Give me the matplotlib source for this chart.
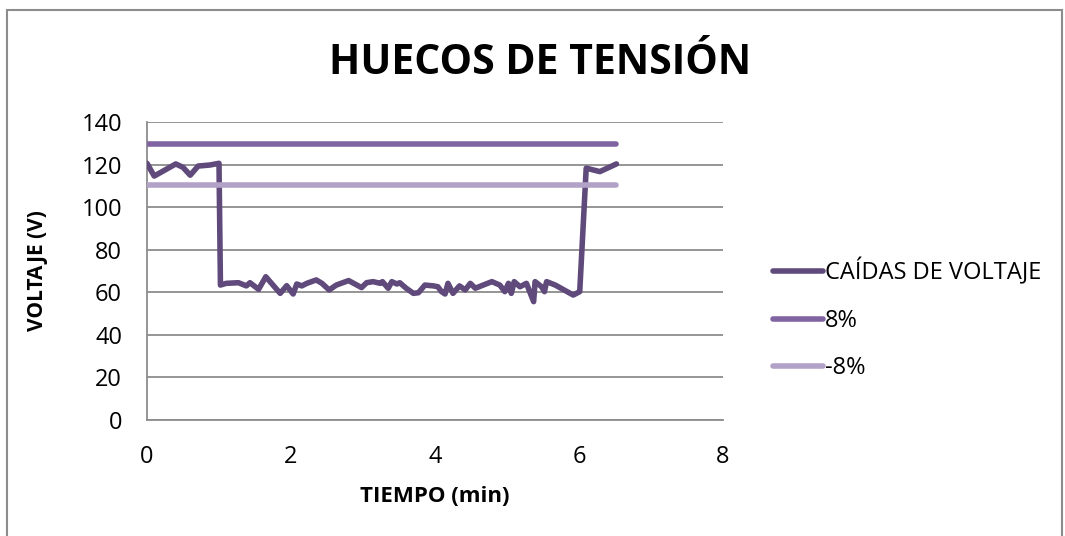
import matplotlib
matplotlib.use('Agg')
import matplotlib.pyplot as plt
from matplotlib.patches import Rectangle

plt.rcParams['font.family'] = ['Open Sans', 'DejaVu Sans']

# voltage readings (min, V)
tiempo = [0.0, 0.1, 0.4, 0.5, 0.6, 0.71, 0.875, 1.0, 1.02, 1.1, 1.27, 1.38, 1.43,
          1.55, 1.65, 1.85, 1.94, 2.03, 2.08, 2.15, 2.22, 2.35, 2.43, 2.53, 2.63,
          2.8, 2.98, 3.05, 3.14, 3.24, 3.27, 3.35, 3.4, 3.47, 3.51, 3.6, 3.7,
          3.77, 3.86, 3.98, 4.04, 4.09, 4.14, 4.18, 4.25, 4.34, 4.42, 4.49, 4.56,
          4.67, 4.79, 4.9, 4.97, 5.02, 5.06, 5.1, 5.18, 5.27, 5.37, 5.39, 5.48,
          5.52, 5.55, 5.67, 5.92, 6.01, 6.1, 6.29, 6.52]
voltaje = [120.6, 114.6, 120.3, 118.7, 115.0, 119.3, 119.8, 120.6, 63.4, 64.2,
           64.5, 63.0, 64.5, 61.4, 67.3, 59.5, 63.1, 59.2, 63.9, 63.0, 64.2,
           65.8, 64.2, 61.1, 63.4, 65.5, 62.2, 64.5, 65.0, 64.2, 65.0, 61.9,
           65.0, 63.9, 64.5, 61.9, 59.5, 59.8, 63.4, 63.0, 62.6, 60.3, 59.2,
           64.2, 59.5, 63.0, 61.1, 64.2, 61.9, 63.4, 65.0, 63.4, 60.3, 64.2,
           59.5, 65.0, 62.6, 64.2, 55.6, 65.0, 62.6, 60.3, 65.0, 63.4, 58.7,
           60.3, 118.3, 116.7, 120.3]
lim_x = [0.0, 6.52]
lim_sup = [129.6, 129.6]   # 8%
lim_inf = [110.4, 110.4]   # -8%

fig = plt.figure(figsize=(10.65, 5.36), dpi=100)
ax = fig.add_axes([147 / 1065, 1 - 420 / 536, (723 - 147) / 1065, (420 - 122) / 536])

fig.patches.append(Rectangle((7 / 1065, -0.05), (1062 - 7) / 1065, 1.05 - 10 / 536,
                             transform=fig.transFigure, fill=False,
                             edgecolor='#8c8c8c', linewidth=1.5))

ax.plot(tiempo, voltaje, color='#604a7b', lw=4, label='CAÍDAS DE VOLTAJE',
        solid_capstyle='round', solid_joinstyle='round', zorder=3)
ax.plot(lim_x, lim_sup, color='#8064a2', lw=4, label='8%', solid_capstyle='round', zorder=3)
ax.plot(lim_x, lim_inf, color='#b3a2c7', lw=4, label='-8%', solid_capstyle='round', zorder=3)

ax.set_xlim(0, 8)
ax.set_ylim(0, 140)
ax.set_xticks(range(0, 9, 2))
ax.set_yticks(range(0, 141, 20))
ax.grid(axis='y', color='#8c8c8c', lw=1.3)
ax.set_axisbelow(True)
ax.tick_params(axis='y', length=0, labelsize=17, pad=18)
ax.tick_params(axis='x', length=0, labelsize=17, pad=18)
for s in ['top', 'right']:
    ax.spines[s].set_visible(False)
for s in ['left', 'bottom']:
    ax.spines[s].set_color('#8c8c8c')
    ax.spines[s].set_linewidth(1.3)

ax.set_xlabel('TIEMPO (min)', fontsize=16, fontweight='bold', labelpad=12)
ax.set_ylabel('VOLTAJE (V)', fontsize=15, fontweight='bold', labelpad=24)
fig.text(540 / 1065, 1 - 63 / 536, 'HUECOS DE TENSIÓN', fontsize=29.5, fontweight='bold',
         ha='center', va='center')

ax.legend(loc='center left', bbox_to_anchor=(1.05, 0.338), frameon=False, fontsize=17,
          handlelength=2.1, handletextpad=0.1, labelspacing=1.0)

fig.savefig('out.png', dpi=100)
